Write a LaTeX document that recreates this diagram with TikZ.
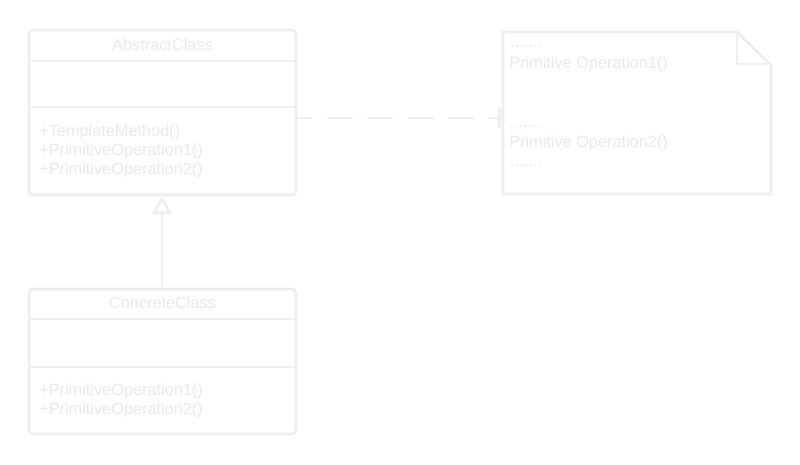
\documentclass[tikz,border=0pt]{standalone}
\usepackage{fontspec}
\setmainfont{Liberation Sans}
\usetikzlibrary{arrows.meta}
\definecolor{ln}{HTML}{EEEEEE}
\definecolor{tx}{HTML}{EAEAEA}
\begin{document}
\begin{tikzpicture}[x=1pt,y=-1pt,
  line width=2.6pt,
  boxline/.style={draw=ln,line width=2.6pt},
  txt/.style={text=tx,font=\fontsize{16.3}{19}\selectfont,inner sep=0pt},
  meth/.style={txt,anchor=west,align=left},
  dots/.style={txt,anchor=base west}]
\useasboundingbox[fill=white] (0,0) rectangle (800,465);
% AbstractClass
\draw[boxline,rounded corners=4pt] (29,30) rectangle (296,195);
\draw[boxline] (29,61) -- (296,61);
\draw[boxline] (29,107) -- (296,107);
\node[txt] (acname) at (162.5,44.5) {AbstractClass};
\node[meth] (acm) at (38,151) {+TemplateMethod()\\+PrimitiveOperation1()\\+PrimitiveOperation2()};
\node[inner sep=0pt,minimum width=267pt,minimum height=165pt] (abs) at (162.5,112.5) {};
% ConcreteClass
\draw[boxline,rounded corners=4pt] (29,289) rectangle (296,434);
\draw[boxline] (29,319) -- (296,319);
\draw[boxline] (29,367) -- (296,367);
\node[txt] (ccname) at (162.5,302.5) {ConcreteClass};
\node[meth] (ccm) at (38,400.5) {+PrimitiveOperation1()\\+PrimitiveOperation2()};
\node[inner sep=0pt,minimum width=267pt,minimum height=145pt] (conc) at (162.5,361.5) {};
% Note
\draw[boxline,line join=miter] (503,32) -- (737,32) -- (771,65) -- (771,194) -- (503,194) -- cycle;
\draw[boxline,line join=miter] (737,32) -- (737,64) -- (771,64);
\node[inner sep=0pt,minimum width=268pt,minimum height=162pt] (note) at (637,113) {};
\node[dots] (d1) at (509,47.5) {.......};
\node[txt,anchor=west] (p1) at (508,64.5) {Primitive Operation1()};
\node[dots] (d2) at (508,127.5) {.......};
\node[txt,anchor=west] (p2) at (508,143) {Primitive Operation2()};
\node[dots] (d3) at (509,166.5) {.......};
% connectors
\coordinate (dl) at (296,118);
\coordinate (dr) at (501,118);
\draw[draw=ln,line width=2.6pt,dash pattern=on 26pt off 14.5pt,dash phase=10pt,
  -{Bar[width=20pt,line width=2.6pt]}] (dl) -- (dr);
\coordinate (inhs) at (162,289);
\coordinate (inhe) at (162,197);
\draw[draw=ln,line width=2.6pt,-{Triangle[open,width=20pt,length=17pt,line width=2.6pt,fill=white]}] (inhs) -- (inhe);
\end{tikzpicture}
\end{document}
